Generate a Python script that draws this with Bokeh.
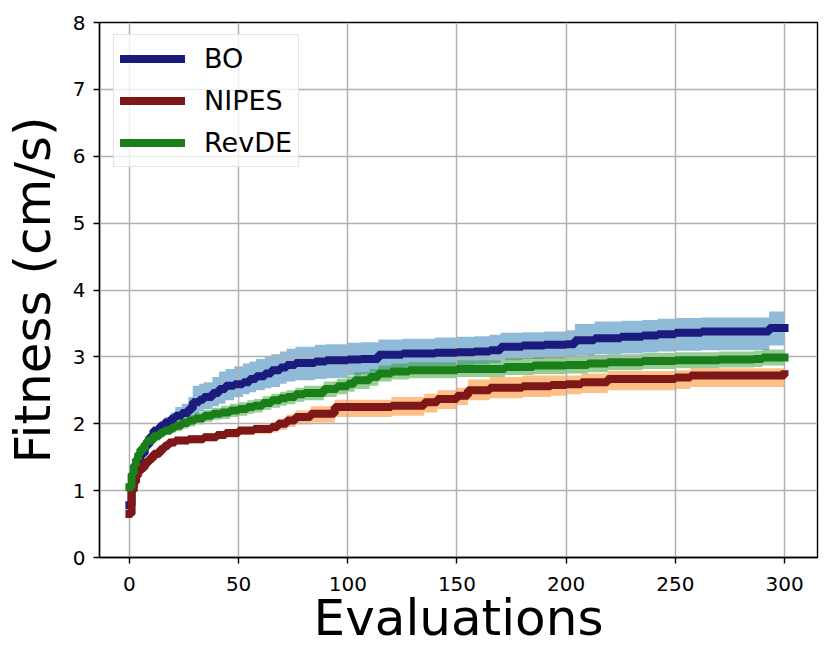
from bokeh.plotting import figure
from bokeh.models import Legend, LegendItem, FixedTicker, Range1d
from bokeh.embed import file_html
from bokeh.resources import INLINE

# ---- data ----
bo_x = [0, 1, 2, 3, 5, 7, 9, 11, 14, 16, 19, 21, 24, 27, 29, 32, 34, 38, 41, 44, 48, 52, 55, 58, 62, 65,
        69, 72, 76, 85, 90, 100, 106, 114, 125, 140, 150, 158, 165, 170, 180, 190, 200, 204, 213, 225,
        235, 242, 250, 262, 293, 300]
bo_mean = [0.78, 1.05, 1.25, 1.40, 1.55, 1.68, 1.80, 1.90, 1.97, 2.02, 2.08, 2.12, 2.16, 2.22, 2.32, 2.36,
           2.40, 2.46, 2.52, 2.57, 2.59, 2.62, 2.67, 2.71, 2.75, 2.80, 2.84, 2.88, 2.91, 2.93, 2.95, 2.96,
           2.97, 3.03, 3.05, 3.06, 3.07, 3.08, 3.10, 3.15, 3.17, 3.18, 3.19, 3.25, 3.28, 3.30, 3.32, 3.34,
           3.36, 3.38, 3.43, 3.43]
bo_upper = [0.85, 1.10, 1.30, 1.45, 1.60, 1.75, 1.86, 1.95, 2.03, 2.10, 2.17, 2.25, 2.30, 2.40, 2.57, 2.60,
            2.62, 2.70, 2.78, 2.82, 2.86, 2.90, 2.93, 2.97, 3.00, 3.04, 3.08, 3.12, 3.15, 3.18, 3.19, 3.21,
            3.22, 3.26, 3.27, 3.29, 3.30, 3.31, 3.33, 3.36, 3.37, 3.38, 3.40, 3.49, 3.53, 3.54, 3.55, 3.57,
            3.58, 3.59, 3.68, 3.68]
bo_lower = [0.70, 1.00, 1.20, 1.35, 1.50, 1.60, 1.72, 1.83, 1.90, 1.94, 2.00, 2.02, 2.05, 2.08, 2.12, 2.18,
            2.22, 2.26, 2.30, 2.35, 2.40, 2.44, 2.47, 2.50, 2.53, 2.55, 2.60, 2.63, 2.65, 2.67, 2.68, 2.72,
            2.74, 2.80, 2.85, 2.86, 2.88, 2.89, 2.91, 2.95, 2.97, 2.98, 3.00, 3.02, 3.04, 3.05, 3.07, 3.08,
            3.09, 3.10, 3.17, 3.17]

nipes_x = [0, 1, 2, 3, 4, 5, 7, 9, 11, 14, 16, 18, 21, 27, 34, 40, 44, 50, 57, 65, 68, 72, 76, 83, 94,
           120, 135, 141, 150, 155, 165, 180, 193, 200, 207, 219, 250, 257, 300]
nipes_mean = [0.65, 1.00, 1.12, 1.22, 1.28, 1.34, 1.42, 1.48, 1.55, 1.62, 1.67, 1.72, 1.75, 1.77, 1.80,
              1.83, 1.86, 1.90, 1.92, 1.95, 2.00, 2.05, 2.10, 2.15, 2.25, 2.27, 2.32, 2.37, 2.42, 2.50,
              2.54, 2.56, 2.58, 2.59, 2.62, 2.67, 2.69, 2.72, 2.74]
nipes_upper = [0.70, 1.05, 1.17, 1.27, 1.33, 1.39, 1.47, 1.54, 1.61, 1.68, 1.73, 1.78, 1.81, 1.83, 1.86,
               1.89, 1.92, 1.96, 1.99, 2.03, 2.08, 2.14, 2.20, 2.26, 2.36, 2.40, 2.45, 2.50, 2.54, 2.66,
               2.70, 2.72, 2.72, 2.72, 2.75, 2.79, 2.80, 2.83, 2.86]
nipes_lower = [0.60, 0.95, 1.07, 1.17, 1.23, 1.29, 1.37, 1.42, 1.49, 1.56, 1.61, 1.66, 1.69, 1.71, 1.74,
               1.77, 1.79, 1.83, 1.85, 1.87, 1.91, 1.95, 1.99, 2.02, 2.10, 2.12, 2.17, 2.22, 2.28, 2.35,
               2.38, 2.40, 2.42, 2.44, 2.46, 2.50, 2.52, 2.55, 2.57]

revde_x = [0, 1, 2, 3, 4, 5, 7, 8, 11, 14, 16, 19, 21, 24, 27, 30, 34, 38, 42, 46, 50, 54, 57, 61, 65,
           69, 72, 76, 80, 89, 95, 100, 103, 110, 114, 120, 128, 150, 172, 185, 200, 210, 219, 235, 250,
           270, 286, 290, 300]
revde_mean = [1.05, 1.25, 1.38, 1.47, 1.55, 1.62, 1.70, 1.75, 1.82, 1.87, 1.90, 1.94, 1.97, 2.01, 2.05,
              2.08, 2.12, 2.15, 2.17, 2.20, 2.22, 2.25, 2.27, 2.31, 2.35, 2.38, 2.40, 2.44, 2.46, 2.52,
              2.56, 2.60, 2.65, 2.70, 2.75, 2.78, 2.80, 2.82, 2.85, 2.87, 2.88, 2.90, 2.92, 2.94, 2.95,
              2.96, 2.97, 2.99, 2.99]
revde_upper = [1.10, 1.32, 1.45, 1.54, 1.62, 1.69, 1.77, 1.82, 1.89, 1.94, 1.97, 2.01, 2.05, 2.09, 2.13,
               2.17, 2.21, 2.24, 2.27, 2.30, 2.32, 2.35, 2.37, 2.41, 2.45, 2.48, 2.50, 2.54, 2.57, 2.63,
               2.67, 2.71, 2.77, 2.82, 2.87, 2.90, 2.92, 2.95, 2.98, 3.00, 3.02, 3.03, 3.04, 3.06, 3.07,
               3.08, 3.09, 3.11, 3.11]
revde_lower = [1.00, 1.18, 1.31, 1.40, 1.48, 1.55, 1.63, 1.68, 1.75, 1.80, 1.83, 1.86, 1.89, 1.93, 1.96,
               1.99, 2.03, 2.06, 2.07, 2.10, 2.12, 2.15, 2.17, 2.21, 2.24, 2.27, 2.29, 2.33, 2.35, 2.40,
               2.44, 2.48, 2.52, 2.57, 2.63, 2.66, 2.68, 2.70, 2.73, 2.74, 2.75, 2.77, 2.80, 2.82, 2.83,
               2.84, 2.85, 2.87, 2.87]

x_ticks = [0, 50, 100, 150, 200, 250, 300]
y_ticks = [0, 1, 2, 3, 4, 5, 6, 7, 8]
labels = ["BO", "NIPES", "RevDE"]

FONT = "DejaVu Sans"

p = figure(output_backend="svg", toolbar_location=None,
           frame_width=718, frame_height=535,
           x_range=Range1d(-13.7, 315.1), y_range=Range1d(0, 8))
p.min_border_left = 90
p.min_border_right = 5
p.min_border_top = 22
p.min_border_bottom = 95
p.background_fill_color = "white"
p.border_fill_color = "white"
p.outline_line_color = "black"
p.outline_line_width = 1.4

# bands (below grid)
p.varea_step(x=bo_x, y1=bo_lower, y2=bo_upper, step_mode="after",
             fill_color="#1f77b4", fill_alpha=0.5, level="image")
p.varea_step(x=nipes_x, y1=nipes_lower, y2=nipes_upper, step_mode="after",
             fill_color="#ff7f0e", fill_alpha=0.5, level="image")
p.varea_step(x=revde_x, y1=revde_lower, y2=revde_upper, step_mode="after",
             fill_color="#2ca02c", fill_alpha=0.5, level="image")

# mean lines
r_bo = p.step(bo_x, bo_mean, mode="after", line_color="#1b1b7d", line_width=8, line_cap="square")
r_ni = p.step(nipes_x, nipes_mean, mode="after", line_color="#7e1818", line_width=8, line_cap="square")
r_rv = p.step(revde_x, revde_mean, mode="after", line_color="#1a7f1a", line_width=8, line_cap="square")

# grid
for g in (p.xgrid, p.ygrid):
    g.grid_line_color = "#b0b0b0"
    g.grid_line_width = 1.5
p.xgrid.ticker = FixedTicker(ticks=x_ticks)
p.ygrid.ticker = FixedTicker(ticks=y_ticks)

# axes
p.xaxis.ticker = FixedTicker(ticks=x_ticks)
p.yaxis.ticker = FixedTicker(ticks=y_ticks)
for ax in (p.xaxis, p.yaxis):
    ax.axis_line_color = "black"
    ax.axis_line_width = 1.4
    ax.major_tick_line_color = "black"
    ax.major_tick_line_width = 1.4
    ax.major_tick_out = 6
    ax.major_tick_in = 0
    ax.minor_tick_line_color = None
    ax.major_label_text_font = FONT
    ax.major_label_text_font_size = "20px"
    ax.major_label_text_color = "black"
    ax.axis_label_text_font = FONT
    ax.axis_label_text_font_size = "50px"
    ax.axis_label_text_font_style = "normal"
    ax.axis_label_text_color = "black"
p.xaxis.axis_label = "Evaluations"
p.yaxis.axis_label = "Fitness (cm/s)"
p.xaxis.major_label_standoff = 13
p.yaxis.major_label_standoff = 8
p.xaxis.axis_label_standoff = -5
p.yaxis.axis_label_standoff = 8

legend = Legend(items=[LegendItem(label=labels[0], renderers=[r_bo]),
                       LegendItem(label=labels[1], renderers=[r_ni]),
                       LegendItem(label=labels[2], renderers=[r_rv])],
                location=(14, 390))
legend.label_text_font = FONT
legend.label_text_font_size = "27px"
legend.label_text_color = "black"
legend.glyph_width = 65
legend.glyph_height = 35
legend.label_standoff = 19
legend.spacing = 7
legend.padding = 6
legend.margin = 0
legend.border_line_color = "#cccccc"
legend.border_line_width = 1.2
legend.background_fill_color = "white"
legend.background_fill_alpha = 0.8
p.add_layout(legend, "center")

open("out.html", "w").write(file_html(p, INLINE))
